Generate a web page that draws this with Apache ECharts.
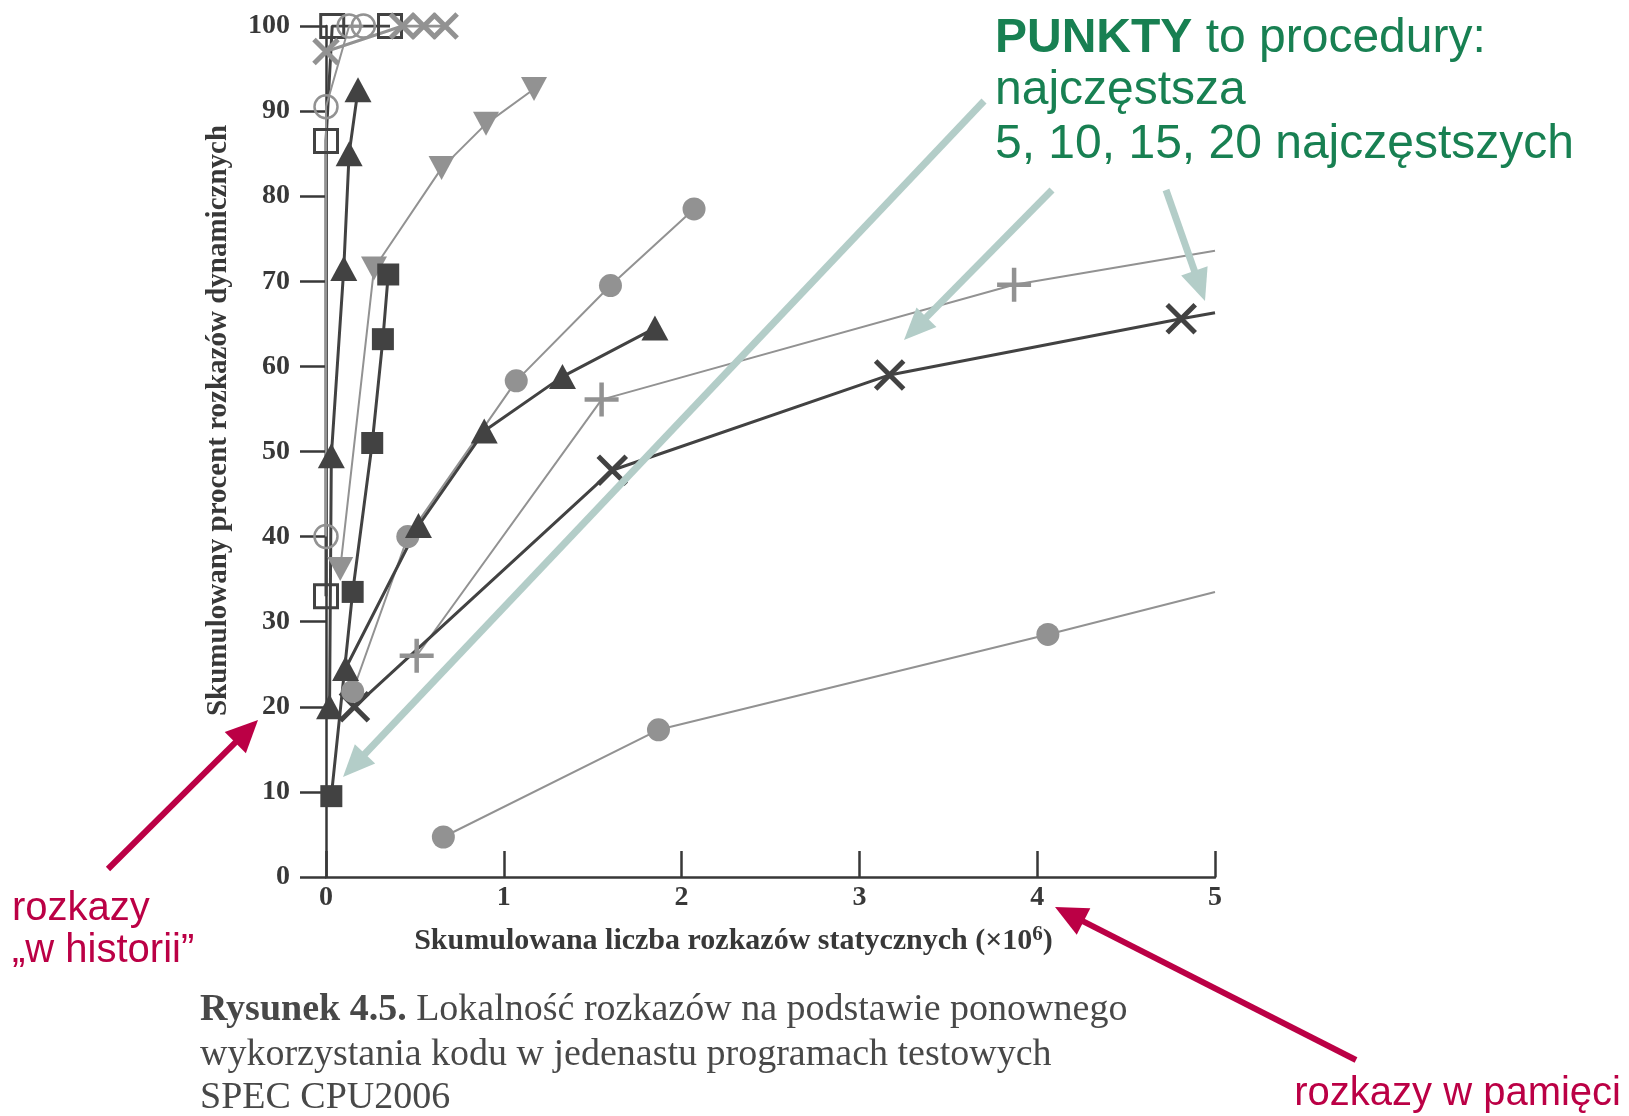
<!DOCTYPE html>
<html>
<head>
<meta charset="utf-8">
<script src="https://cdn.jsdelivr.net/npm/echarts@6/dist/echarts.min.js"></script>
<style>
html,body{margin:0;padding:0;background:#fff;}
#chart{width:1629px;height:1116px;}
</style>
</head>
<body>
<div id="chart"></div>
<script>
// ---- data (x: cumulative static instructions ×10^6, y: cumulative % dynamic instructions)
const xTicks = [0, 1, 2, 3, 4, 5];
const yTicks = [0, 10, 20, 30, 40, 50, 60, 70, 80, 90, 100];

const openSquareX = [0.0, 0.0, 0.035, 0.36];
const openSquareY = [33, 86.5, 100, 100];

const openCircleX = [0.0, 0.0, 0.13, 0.21];
const openCircleY = [40, 90.5, 100, 100];

const grayCrossX = [0.0, 0.43, 0.55, 0.67];
const grayCrossY = [97, 100, 100, 100];

const darkTriSteepX = [0.02, 0.03, 0.10, 0.13, 0.18];
const darkTriSteepY = [20, 49.5, 71.5, 85, 92.5];

const darkTriX = [0.11, 0.52, 0.89, 1.33, 1.85];
const darkTriY = [24.5, 41.3, 52.4, 58.8, 64.5];

const grayDownTriX = [0.08, 0.27, 0.65, 0.90, 1.17];
const grayDownTriY = [36.2, 71.5, 83.3, 88.5, 92.6];

const darkSquareX = [0.03, 0.15, 0.26, 0.32, 0.35];
const darkSquareY = [9.5, 33.5, 51, 63.2, 70.8];

const grayCircleMidX = [0.15, 0.46, 1.07, 1.60, 2.07];
const grayCircleMidY = [21.8, 40, 58.3, 69.5, 78.5];

// last value of the next three = where the line leaves the frame at x = 5
const grayPlusX = [0.51, 1.55, 3.87, 5.0];
const grayPlusY = [26, 56.1, 69.6, 73.6];

const darkCrossX = [0.16, 1.61, 3.17, 4.81, 5.0];
const darkCrossY = [20, 47.8, 59, 65.6, 66.3];

const grayCircleLowX = [0.66, 1.87, 4.06, 5.0];
const grayCircleLowY = [4.7, 17.3, 28.5, 33.5];

// ---- styles
const DARK = '#424242';
const GRAY = '#929292';
const AXIS = '#383838';
const SERIF = '"Liberation Serif","DejaVu Serif",serif';
const SANS = '"Liberation Sans","Noto Sans",Arial,sans-serif';
const CROSS = 'path://M0,0L10,10M10,0L0,10';
const PLUS = 'path://M5,0L5,10M0,5L10,5';

function pts(xs, ys, edgeLast) {
  return xs.map((x, i) => {
    const item = { value: [x, ys[i]] };
    if (edgeLast && i === xs.length - 1) item.symbol = 'none';
    return item;
  });
}

function mk(name, xs, ys, opt) {
  return {
    name: name,
    type: 'line',
    data: pts(xs, ys, opt.edge),
    symbol: opt.symbol,
    symbolSize: opt.size,
    symbolRotate: opt.rotate || 0,
    lineStyle: { color: opt.color, width: opt.lw },
    itemStyle: opt.item,
    clip: true,
    animation: false,
    emphasis: { disabled: true },
    z: 2
  };
}

const series = [
  mk('grayCircleLow', grayCircleLowX, grayCircleLowY, { symbol: 'circle', size: 23, color: GRAY, lw: 2, edge: true, item: { color: GRAY } }),
  mk('grayPlus', grayPlusX, grayPlusY, { symbol: PLUS, size: 34, color: GRAY, lw: 2, edge: true, item: { color: 'rgba(0,0,0,0)', borderColor: GRAY, borderWidth: 4.5 } }),
  mk('darkCross', darkCrossX, darkCrossY, { symbol: CROSS, size: 28, color: DARK, lw: 3, edge: true, item: { color: 'rgba(0,0,0,0)', borderColor: DARK, borderWidth: 5 } }),
  mk('grayCircleMid', grayCircleMidX, grayCircleMidY, { symbol: 'circle', size: 23, color: GRAY, lw: 2, item: { color: GRAY } }),
  mk('darkTri', darkTriX, darkTriY, { symbol: 'triangle', size: [27, 25], color: DARK, lw: 3, item: { color: DARK } }),
  mk('grayDownTri', grayDownTriX, grayDownTriY, { symbol: 'triangle', rotate: 180, size: [26, 24], color: GRAY, lw: 2, item: { color: GRAY } }),
  mk('darkSquare', darkSquareX, darkSquareY, { symbol: 'rect', size: 22, color: DARK, lw: 3, item: { color: DARK } }),
  mk('darkTriSteep', darkTriSteepX, darkTriSteepY, { symbol: 'triangle', size: [27, 25], color: DARK, lw: 3, item: { color: DARK } }),
  mk('openSquare', openSquareX, openSquareY, { symbol: 'rect', size: 23, color: DARK, lw: 3, item: { color: 'rgba(0,0,0,0)', borderColor: DARK, borderWidth: 3 } }),
  mk('openCircle', openCircleX, openCircleY, { symbol: 'circle', size: 23, color: GRAY, lw: 2, item: { color: 'rgba(0,0,0,0)', borderColor: GRAY, borderWidth: 2.5 } }),
  mk('grayCross', grayCrossX, grayCrossY, { symbol: CROSS, size: 24, color: GRAY, lw: 3, item: { color: 'rgba(0,0,0,0)', borderColor: GRAY, borderWidth: 5 } })
];

// ---- annotation arrows (pixel coordinates of the overlay drawing)
const TEAL = '#b3cdc8';
const CRIMSON = '#bb0045';
const GREEN = '#188052';
const CAPTION = '#484848';
function arrow(x1, y1, x2, y2, color, w, hl, hw) {
  const dx = x2 - x1, dy = y2 - y1, L = Math.hypot(dx, dy);
  const ux = dx / L, uy = dy / L, px = -uy, py = ux;
  const bx = x2 - ux * hl, by = y2 - uy * hl;
  return [
    { type: 'line', silent: true, z: 50, shape: { x1: x1, y1: y1, x2: bx + ux * 2, y2: by + uy * 2 }, style: { stroke: color, lineWidth: w } },
    { type: 'polygon', silent: true, z: 50, shape: { points: [[x2, y2], [bx + px * hw / 2, by + py * hw / 2], [bx - px * hw / 2, by - py * hw / 2]] }, style: { fill: color } }
  ];
}

const graphics = [].concat(
  arrow(984, 101, 343, 777, TEAL, 7, 32, 28),
  arrow(1052, 190, 904, 340, TEAL, 7, 32, 28),
  arrow(1166, 190, 1205, 301, TEAL, 7, 32, 28),
  arrow(108, 869, 258, 720, CRIMSON, 6, 32, 30),
  arrow(1356, 1060, 1055, 907, CRIMSON, 6, 32, 30)
);

function txt(x, y, text, font, fill, extra) {
  return { type: 'text', z: 60, silent: true, x: x, y: y, style: Object.assign({ text: text, fill: fill, font: font, verticalAlign: 'middle' }, extra || {}) };
}

graphics.push(
  txt(995, 39, '{b|PUNKTY} to procedury:', '48px ' + SANS, GREEN, { rich: { b: { fontWeight: 'bold', fontSize: 48, fontFamily: SANS, fill: GREEN } } }),
  txt(995, 91, 'najczęstsza', '48px ' + SANS, GREEN),
  txt(995, 145, '5, 10, 15, 20 najczęstszych', '48px ' + SANS, GREEN),
  txt(12, 909, 'rozkazy', '40px ' + SANS, CRIMSON),
  txt(12, 951, '„w historii”', '40px ' + SANS, CRIMSON),
  txt(1621, 1094, 'rozkazy w pamięci', '40px ' + SANS, CRIMSON, { align: 'right' }),
  txt(200, 1010, '{b|Rysunek 4.5.} Lokalność rozkazów na podstawie ponownego', '38px ' + SERIF, CAPTION, { rich: { b: { fontWeight: 'bold', fontSize: 38, fontFamily: SERIF, fill: CAPTION } } }),
  txt(200, 1055, 'wykorzystania kodu w jedenastu programach testowych', '38px ' + SERIF, CAPTION),
  txt(200, 1098, 'SPEC CPU2006', '38px ' + SERIF, CAPTION)
);

const chart = echarts.init(document.getElementById('chart'), null, { renderer: 'canvas' });
chart.setOption({
  backgroundColor: '#ffffff',
  animation: false,
  grid: { left: 326, right: 414, top: 26, bottom: 239, containLabel: false },
  xAxis: {
    type: 'value', min: xTicks[0], max: xTicks[xTicks.length - 1], interval: 1,
    splitLine: { show: false },
    axisLine: { show: true, onZero: false, lineStyle: { color: AXIS, width: 2.5 } },
    axisTick: { show: true, inside: true, length: 26, lineStyle: { color: AXIS, width: 2.5 } },
    axisLabel: { show: true, margin: 7, color: AXIS, fontFamily: SERIF, fontWeight: 'bold', fontSize: 28 },
    name: 'Skumulowana liczba rozkazów statycznych (×10{sup|6})',
    nameLocation: 'middle', nameGap: 47,
    nameTextStyle: { color: AXIS, fontFamily: SERIF, fontWeight: 'bold', fontSize: 30, padding: [0, 74, 0, 0],
      rich: { sup: { fontFamily: SERIF, fontWeight: 'bold', fontSize: 21, color: AXIS, verticalAlign: 'top', padding: [0, 0, 14, 0] } } }
  },
  yAxis: {
    type: 'value', min: yTicks[0], max: yTicks[yTicks.length - 1], interval: 10,
    splitLine: { show: false },
    axisLine: { show: true, onZero: false, lineStyle: { color: AXIS, width: 2.5 } },
    axisTick: { show: true, inside: false, length: 26, lineStyle: { color: AXIS, width: 2.5 } },
    axisLabel: { show: true, margin: 36, color: AXIS, fontFamily: SERIF, fontWeight: 'bold', fontSize: 28 },
    name: 'Skumulowany procent rozkazów dynamicznych',
    nameLocation: 'middle', nameGap: 93, nameRotate: 90,
    nameTextStyle: { color: AXIS, fontFamily: SERIF, fontWeight: 'bold', fontSize: 29, padding: [0, 0, 0, 62] }
  },
  series: series,
  graphic: graphics
});
</script>
</body>
</html>
